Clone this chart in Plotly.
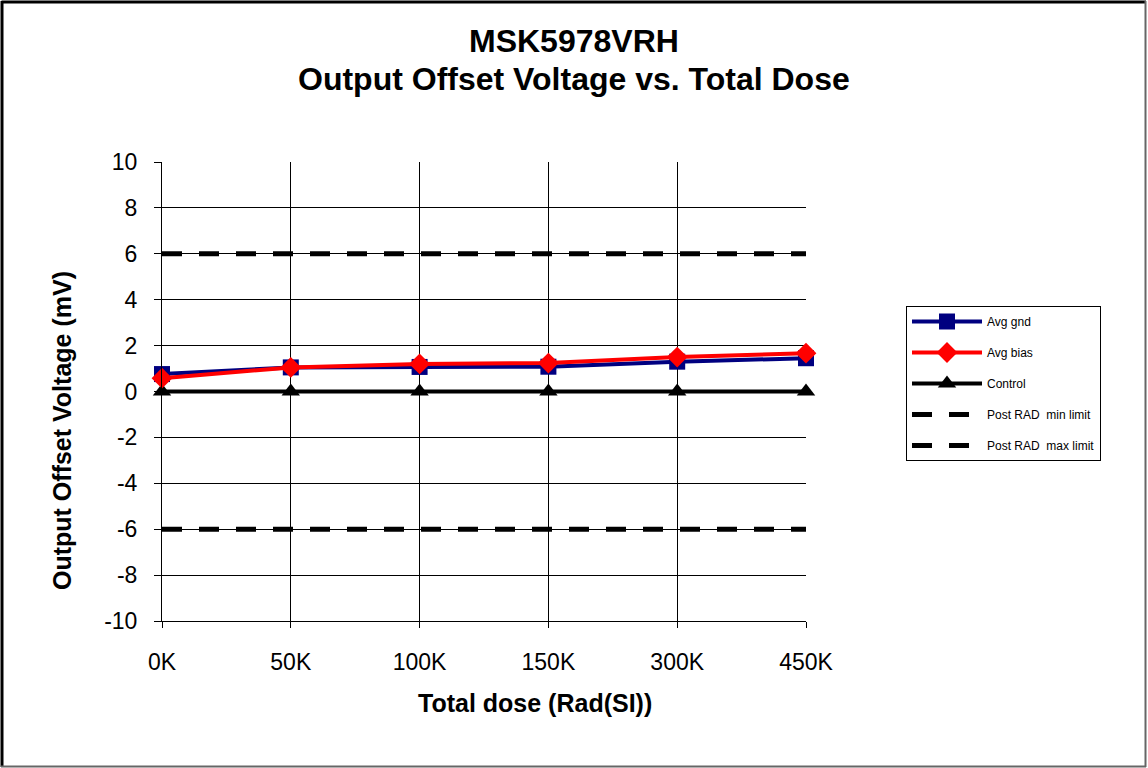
import plotly.graph_objects as go

doses = ["0K", "50K", "100K", "150K", "300K", "450K"]
avg_gnd = [0.76, 1.05, 1.07, 1.08, 1.3, 1.45]
avg_bias = [0.58, 1.05, 1.2, 1.24, 1.5, 1.67]
control = [0, 0, 0, 0, 0, 0]
min_limit = [-6, -6, -6, -6, -6, -6]
max_limit = [6, 6, 6, 6, 6, 6]
y_ticks = [-10, -8, -6, -4, -2, 0, 2, 4, 6, 8, 10]
y_tick_text = ["-10", "-8", "-6", "-4", "-2", "0", "2", "4", "6", "8", "10"]

W, H = 1148, 768
L, R, T, B = 162, 806, 162, 621
pw, ph = R - L, B - T

def px(x):
    return (x - L) / pw

def py(y):
    return (B - y) / ph

fig = go.Figure()
fig.add_trace(go.Scatter(x=doses, y=min_limit, mode="lines", name="Post RAD  min limit",
                         line=dict(color="black", width=5, dash="20px,17px"), legendgroup="d", legendrank=4))
fig.add_trace(go.Scatter(x=doses, y=max_limit, mode="lines", name="Post RAD  max limit",
                         line=dict(color="black", width=5, dash="20px,17px"), legendgroup="e", legendrank=5))
fig.add_trace(go.Scatter(x=doses, y=control, mode="lines+markers", name="Control",
                         line=dict(color="black", width=4),
                         marker=dict(symbol="triangle-up", size=16, color="black"),
                         cliponaxis=False, legendgroup="c", legendrank=3))
fig.add_trace(go.Scatter(x=doses, y=avg_gnd, mode="lines+markers", name="Avg gnd",
                         line=dict(color="#000080", width=4),
                         marker=dict(symbol="square", size=16, color="#000080"),
                         cliponaxis=False, legendgroup="a", legendrank=1))
fig.add_trace(go.Scatter(x=doses, y=avg_bias, mode="lines+markers", name="Avg bias",
                         line=dict(color="#ff0000", width=4),
                         marker=dict(symbol="diamond", size=16, color="#ff0000"),
                         cliponaxis=False, legendgroup="b", legendrank=2))

fig.update_layout(
    width=W, height=H,
    margin=dict(l=L, r=W - R, t=T, b=H - B),
    paper_bgcolor="white", plot_bgcolor="white",
    font=dict(family="Liberation Sans, Arial, sans-serif", color="black"),
    showlegend=True,
    legend=dict(x=px(906), y=py(306), xanchor="left", yanchor="top",
                bordercolor="black", borderwidth=1, bgcolor="white",
                font=dict(size=12, color="black"), tracegroupgap=12,
                itemwidth=70, entrywidth=165),
    xaxis=dict(type="category", range=[0, 5], showgrid=True, gridcolor="black", gridwidth=1,
               showline=True, linecolor="black", linewidth=1, mirror=False,
               ticks="outside", ticklen=6, tickcolor="black", ticklabelstandoff=14,
               tickfont=dict(size=23), zeroline=False),
    yaxis=dict(range=[-10, 10], tickvals=y_ticks, ticktext=y_tick_text,
               showgrid=True, gridcolor="black", gridwidth=1,
               showline=True, linecolor="black", linewidth=1,
               ticks="outside", ticklen=7, tickcolor="black", ticklabelstandoff=12,
               tickfont=dict(size=23), zeroline=False),
)

# Title as two centred lines
fig.add_annotation(text="<b>MSK5978VRH</b>", xref="paper", yref="paper", x=px(574), y=py(41),
                   showarrow=False, xanchor="center", yanchor="middle", font=dict(size=32))
fig.add_annotation(text="<b>Output Offset Voltage vs. Total Dose</b>", xref="paper", yref="paper",
                   x=px(574), y=py(79), showarrow=False, xanchor="center", yanchor="middle",
                   font=dict(size=32))

# Axis titles
fig.add_annotation(text="<b>Total dose (Rad(SI))</b>", xref="paper", yref="paper",
                   x=px(535), y=py(703), showarrow=False, xanchor="center", yanchor="middle",
                   font=dict(size=25))
fig.add_annotation(text="<b>Output Offset Voltage (mV)</b>", xref="paper", yref="paper",
                   x=px(62), y=py(431), showarrow=False, xanchor="center", yanchor="middle",
                   textangle=-90, font=dict(size=25))

# Outer chart border
fig.add_shape(type="line", xref="paper", yref="paper", x0=px(1.5), x1=px(1146), y0=py(2), y1=py(2),
              line=dict(color="black", width=3))
fig.add_shape(type="line", xref="paper", yref="paper", x0=px(2), x1=px(2), y0=py(1), y1=py(767),
              line=dict(color="black", width=3))
fig.add_shape(type="line", xref="paper", yref="paper", x0=px(1145.5), x1=px(1145.5), y0=py(1), y1=py(767),
              line=dict(color="#666666", width=2))
fig.add_shape(type="line", xref="paper", yref="paper", x0=px(1), x1=px(1146), y0=py(766.5), y1=py(766.5),
              line=dict(color="#666666", width=2))

fig.write_html("out.html", config={"displayModeBar": False})

with open("out.html", "r", encoding="utf-8") as f:
    html = f.read()
html = html.replace("<head>", "<head><style>html,body{margin:0;padding:0;overflow:hidden;}</style>", 1)
with open("out.html", "w", encoding="utf-8") as f:
    f.write(html)
